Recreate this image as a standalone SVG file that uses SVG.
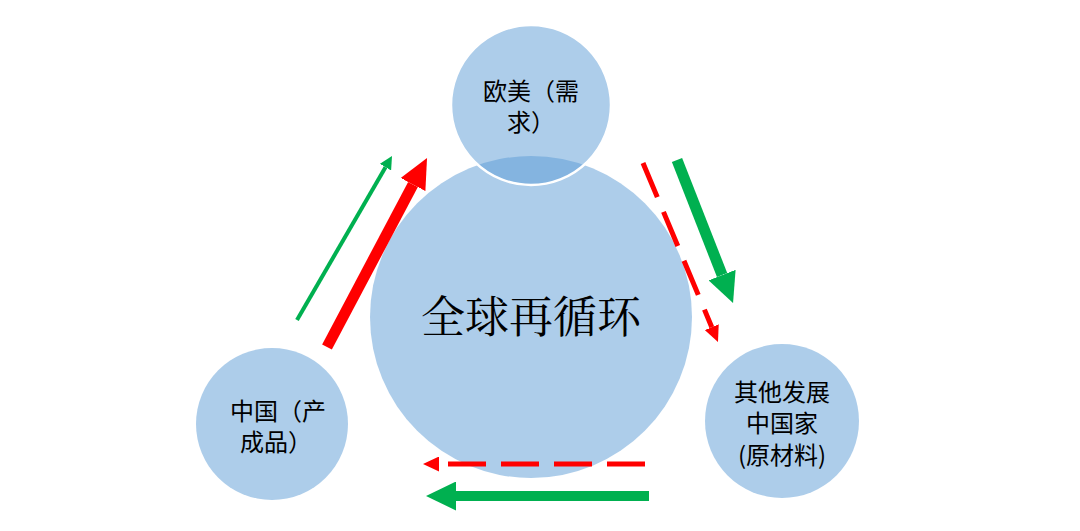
<svg xmlns="http://www.w3.org/2000/svg" width="1080" height="531" viewBox="0 0 1080 531">
<defs>
<style>
.node{fill:#5B9BD5;fill-opacity:0.5}
.lbl{font-family:"Noto Sans CJK SC","Liberation Sans",sans-serif;font-size:24px;fill:#000;text-anchor:middle}
.main{font-family:"Noto Serif CJK SC","Noto Sans CJK SC",serif;font-size:44px;fill:#000;text-anchor:middle}
.red{stroke:#FF0000;fill:none}
.green{stroke:#00B050;fill:none}
</style>
<marker id="hRedBig" markerUnits="userSpaceOnUse" markerWidth="30" markerHeight="28" refX="0" refY="14" orient="auto"><path d="M0,0 L30,14 L0,28 z" fill="#FF0000"/></marker>
<marker id="hGreenBig" markerUnits="userSpaceOnUse" markerWidth="30" markerHeight="29" refX="0" refY="14.5" orient="auto"><path d="M0,0 L30,14.5 L0,29 z" fill="#00B050"/></marker>
<marker id="hGreenSmall" markerUnits="userSpaceOnUse" markerWidth="13" markerHeight="13" refX="0" refY="6.5" orient="auto"><path d="M0,0 L13,6.5 L0,13 z" fill="#00B050"/></marker>
<marker id="hRedSmall" markerUnits="userSpaceOnUse" markerWidth="16" markerHeight="15" refX="0" refY="7.5" orient="auto"><path d="M0,0 L16,7.5 L0,15 z" fill="#FF0000"/></marker>
</defs>
<rect width="1080" height="531" fill="#fff"/>
<g id="center">
<circle class="node" cx="531" cy="317" r="161"/>
<text class="main" x="531" y="333">全球再循环</text>
</g>
<g id="europe">
<circle class="node" cx="531" cy="105" r="80" stroke="#fff" stroke-width="2.5"/>
<text class="lbl" x="531" y="100">欧美（需</text>
<text class="lbl" x="531" y="131">求）</text>
</g>
<g id="china">
<circle class="node" cx="272" cy="424" r="76"/>
<text class="lbl" x="278" y="420">中国（产</text>
<text class="lbl" x="276" y="451">成品）</text>
</g>
<g id="others">
<circle class="node" cx="782" cy="421" r="77"/>
<text class="lbl" x="782" y="401">其他发展</text>
<text class="lbl" x="782" y="432">中国家</text>
<text class="lbl" x="782" y="464">(原材料)</text>
</g>
<g id="connectors">
<line class="green" x1="297" y1="320" x2="385.5" y2="167.2" stroke-width="4" marker-end="url(#hGreenSmall)"/>
<line class="red" x1="327" y1="347" x2="413" y2="184.5" stroke-width="11" marker-end="url(#hRedBig)"/>
<line class="green" x1="677" y1="160" x2="722.1" y2="275.1" stroke-width="11" marker-end="url(#hGreenBig)"/>
<line class="red" x1="643" y1="163" x2="711.8" y2="327.2" stroke-width="5" stroke-dasharray="37 16" marker-end="url(#hRedSmall)"/>
<line class="red" x1="645" y1="464" x2="439" y2="464" stroke-width="5" stroke-dasharray="38 15" marker-end="url(#hRedSmall)"/>
<line class="green" x1="649" y1="496" x2="456" y2="496" stroke-width="10" marker-end="url(#hGreenBig)"/>
</g>
</svg>
